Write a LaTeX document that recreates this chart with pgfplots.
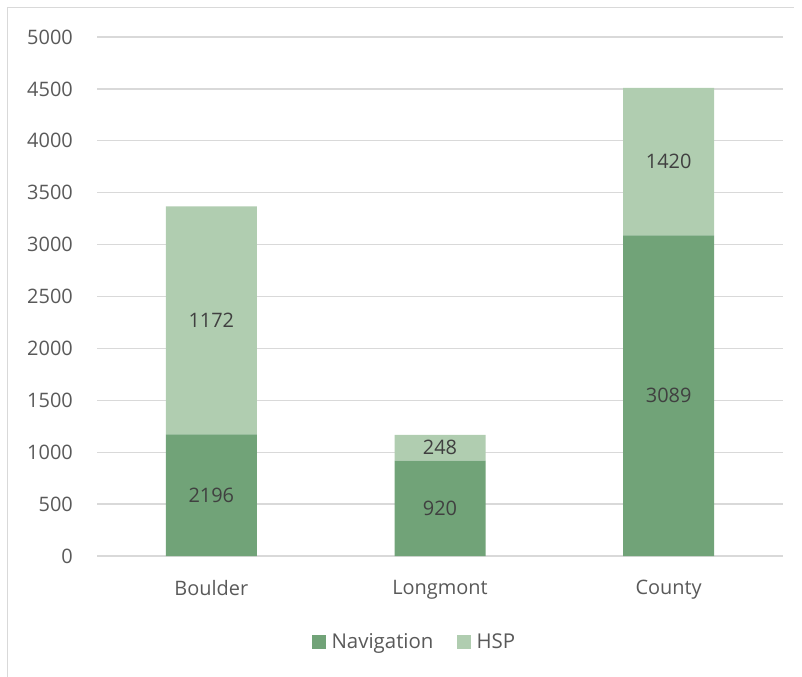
\documentclass[border=0pt]{standalone}
\usepackage{fontspec}
\setmainfont{Open Sans}
\usepackage{pgfplots}
\usepackage{pgfplotstable}
\pgfplotsset{compat=1.18}
\definecolor{nav}{HTML}{71A378}
\definecolor{hsp}{HTML}{B0CDB0}
\definecolor{gridc}{HTML}{D9D9D9}
\definecolor{txt}{HTML}{595959}
\definecolor{lab}{HTML}{404040}
\pgfplotstableread{
x nav hsp
0 1172 2196
1 920 248
2 3089 1420
}\data
\pgfplotstableread{
x mid lab
0 586 2196
0 2270 1172
1 460 920
1 1044 248
2 1544.5 3089
2 3799 1420
}\labels
\pgfplotsset{common/.style={
  at={(97bp,-556bp)}, anchor=south west,
  width=686bp, height=519bp, scale only axis,
  xmin=-0.5, xmax=2.5, ymin=0, ymax=5000,
  /pgf/number format/1000 sep={},
  /pgf/number format/assume math mode=true}}
\begin{document}
\begin{tikzpicture}
\begin{axis}[common,
  ybar stacked, bar width=91bp,
  ytick={0,500,...,5000},
  xtick={0,1,2}, xticklabels={Boulder,Longmont,County},
  ymajorgrids, grid style={gridc, line width=1.3bp},
  axis line style={draw=none},
  major tick length=0pt,
  tick label style={text=txt, font=\fontsize{20}{24}\selectfont, inner sep=0pt},
  yticklabel style={anchor=east, xshift=-24bp},
  xticklabel style={anchor=north, yshift=-24bp},
  legend columns=2,
  legend style={at={(0.4655,-0.1650)}, anchor=center, draw=none,
    font=\fontsize{20.5}{24}\selectfont, text=txt,
    nodes={inner xsep=6bp},
    /tikz/every even column/.append style={column sep=17bp}},
  legend image code/.code={\path[#1, draw=none] (0bp,-7bp) rectangle (14bp,7bp);},
]
\addplot[fill=nav, draw=none] table[x=x, y=nav] {\data};
\addlegendentry{Navigation}
\addplot[fill=hsp, draw=none] table[x=x, y=hsp] {\data};
\addlegendentry{HSP}
\end{axis}
\begin{axis}[common, hide axis]
\addplot[draw=none, mark=none, point meta=explicit,
  nodes near coords={\pgfmathprintnumber{\pgfplotspointmeta}},
  every node near coord/.append style={anchor=center, text=lab,
    font=\fontsize{20}{24}\selectfont}]
  table[x=x, y=mid, meta=lab] {\labels};
\end{axis}
\draw[gridc, line width=1.3bp] (7.5bp,-720bp) -- (7.5bp,-7.5bp) -- (794bp,-7.5bp);
\pgfresetboundingbox
\path (0bp,0bp) rectangle (802bp,-677bp);
\end{tikzpicture}
\end{document}
